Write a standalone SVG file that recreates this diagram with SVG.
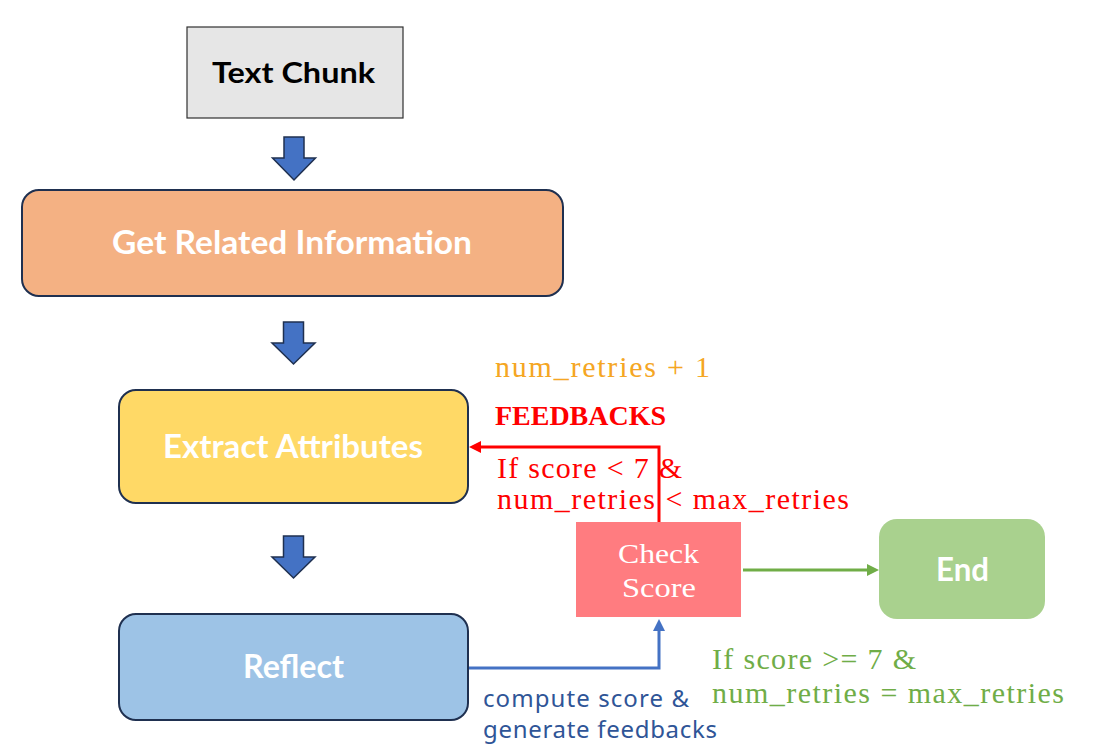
<svg xmlns="http://www.w3.org/2000/svg" width="1095" height="751" viewBox="0 0 1095 751">
<style>
.node-box{stroke:#1f3050;stroke-width:2}
.lbl{font-family:Lato,"Open Sans","Liberation Sans",sans-serif;font-weight:700;fill:#ffffff;text-anchor:start}
.serif{font-family:"Liberation Serif","Times New Roman",serif}
.blk{fill:#4472c4;stroke:#1f3050;stroke-width:1.5;stroke-linejoin:miter}
.conn{fill:none;stroke-width:3}
</style>
<defs>
<marker id="ah-red" markerUnits="userSpaceOnUse" markerWidth="13" markerHeight="14" refX="0" refY="7" orient="auto"><path d="M0,1 L12,7 L0,13 Z" fill="#ff0000"/></marker>
<marker id="ah-blue" markerUnits="userSpaceOnUse" markerWidth="13" markerHeight="14" refX="0" refY="7" orient="auto"><path d="M0,1 L12,7 L0,13 Z" fill="#4472c4"/></marker>
<marker id="ah-green" markerUnits="userSpaceOnUse" markerWidth="13" markerHeight="14" refX="0" refY="7" orient="auto"><path d="M0,1 L12,7 L0,13 Z" fill="#70ad47"/></marker>
</defs>
<rect width="1095" height="751" fill="#ffffff"/>

<g id="connectors">
<polygon class="blk" points="284,137 304,137 304,158 315.5,158 294,180 272.5,158 284,158"/>
<polygon class="blk" points="283.5,322 303.5,322 303.5,343 315,343 293.5,364 272,343 283.5,343"/>
<polygon class="blk" points="283.5,536 303.5,536 303.5,557 315,557 293.5,578 272,557 283.5,557"/>
<path class="conn" d="M659,522 V447 H481" stroke="#ff0000" marker-end="url(#ah-red)"/>
<path class="conn" d="M469,668 H659 V631" stroke="#4472c4" marker-end="url(#ah-blue)"/>
<path class="conn" d="M743,570 H867" stroke="#70ad47" marker-end="url(#ah-green)"/>
</g>

<g id="node-text-chunk">
<rect x="187" y="27" width="216" height="91" fill="#e6e6e6" stroke="#303030" stroke-width="1.2"/>
<text x="212" y="83" font-family="Lato,'Open Sans','Liberation Sans',sans-serif" font-weight="700" font-size="28" fill="#000000" textLength="163" lengthAdjust="spacingAndGlyphs">Text Chunk</text>
</g>

<g id="node-get-related">
<rect class="node-box" x="22" y="190" width="541" height="106" rx="17" fill="#f4b183"/>
<text class="lbl" x="112" y="254" font-size="32" textLength="360" lengthAdjust="spacingAndGlyphs">Get Related Information</text>
</g>

<g id="node-extract">
<rect class="node-box" x="119" y="390" width="349" height="113" rx="17" fill="#ffd966"/>
<text class="lbl" x="163" y="458" font-size="32" textLength="260" lengthAdjust="spacingAndGlyphs">Extract Attributes</text>
</g>

<g id="node-reflect">
<rect class="node-box" x="119" y="614" width="349" height="106" rx="17" fill="#9dc3e6"/>
<text class="lbl" x="243" y="678" font-size="32" textLength="101" lengthAdjust="spacingAndGlyphs">Reflect</text>
</g>

<g id="node-check-score">
<rect x="576" y="522" width="165" height="95" fill="#ff7c80"/>
<text class="serif" x="618" y="563" font-size="28" fill="#ffffff" textLength="81" lengthAdjust="spacingAndGlyphs">Check</text>
<text class="serif" x="622" y="597" font-size="28" fill="#ffffff" textLength="74" lengthAdjust="spacingAndGlyphs">Score</text>
</g>

<g id="node-end">
<rect x="879" y="519" width="166" height="100" rx="18" fill="#a9d18e"/>
<text class="lbl" x="936" y="581" font-size="32" textLength="53" lengthAdjust="spacingAndGlyphs">End</text>
</g>

<g id="labels">
<text class="serif" x="495" y="377" font-size="30" fill="#f5a623" textLength="215" lengthAdjust="spacing">num_retries + 1</text>
<text class="serif" x="495" y="425" font-size="28" font-weight="700" fill="#ff0000" textLength="171" lengthAdjust="spacing">FEEDBACKS</text>
<text class="serif" x="497" y="478" font-size="30" fill="#ff0000" textLength="185" lengthAdjust="spacing">If score &lt; 7 &amp;</text>
<text class="serif" x="497" y="509" font-size="30" fill="#ff0000" textLength="352" lengthAdjust="spacing">num_retries &lt; max_retries</text>
<text class="serif" x="712" y="669" font-size="30" fill="#70ad47" textLength="204" lengthAdjust="spacing">If score &gt;= 7 &amp;</text>
<text class="serif" x="712" y="703" font-size="30" fill="#70ad47" textLength="352" lengthAdjust="spacing">num_retries = max_retries</text>
<text x="483" y="707" font-family="'Noto Sans','Liberation Sans',sans-serif" font-size="24" fill="#2f5597" textLength="206" lengthAdjust="spacing">compute score &amp;</text>
<text x="483" y="738" font-family="'Noto Sans','Liberation Sans',sans-serif" font-size="24" fill="#2f5597" textLength="234" lengthAdjust="spacing">generate feedbacks</text>
</g>
</svg>
